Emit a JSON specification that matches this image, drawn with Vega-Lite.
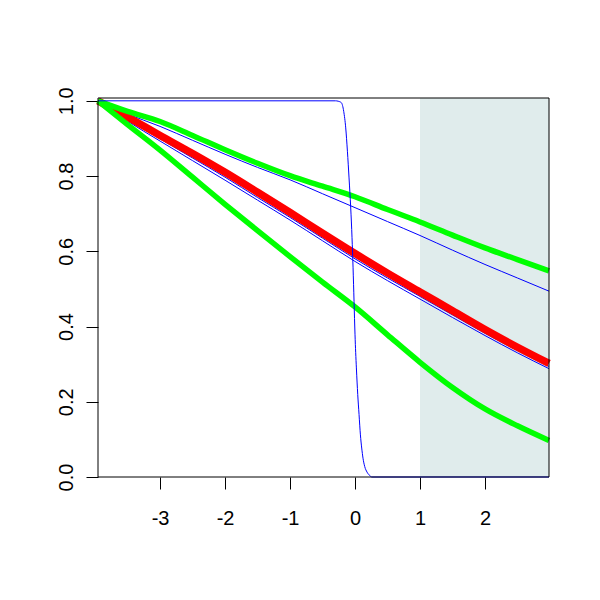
{
  "$schema": "https://vega.github.io/schema/vega-lite/v6.json",
  "width": 451,
  "height": 379,
  "autosize": {"type": "none"},
  "padding": {"left": 98, "top": 98, "right": 51, "bottom": 123},
  "background": "white",
  "config": {
    "view": {"stroke": null},
    "axis": {
      "grid": false, "domain": false, "tickColor": "black", "tickSize": 12, "tickWidth": 1,
      "labelFont": "Liberation Sans", "labelFontSize": 19, "labelColor": "black", "title": null
    }
  },
  "datasets": {
    "shade": [{"x1": 1, "x2": 2.985}],
    "frame": [{"x1": -3.955, "x2": 2.985, "y1": 0, "y2": 1.0075}],
    "fits": [
      {"s": "u", "x": -3.955, "y": 1.0}, {"s": "u", "x": -3.5, "y": 0.965}, {"s": "u", "x": -3, "y": 0.932}, {"s": "u", "x": -2.5, "y": 0.895}, {"s": "u", "x": -2, "y": 0.858}, {"s": "u", "x": -1.5, "y": 0.823}, {"s": "u", "x": -1, "y": 0.79}, {"s": "u", "x": -0.5, "y": 0.753}, {"s": "u", "x": 0, "y": 0.716}, {"s": "u", "x": 0.5, "y": 0.679}, {"s": "u", "x": 1, "y": 0.642}, {"s": "u", "x": 1.5, "y": 0.603}, {"s": "u", "x": 2, "y": 0.565}, {"s": "u", "x": 2.5, "y": 0.529}, {"s": "u", "x": 2.985, "y": 0.494},
      {"s": "a", "x": -3.955, "y": 1.0}, {"s": "a", "x": -3.5, "y": 0.95}, {"s": "a", "x": -3, "y": 0.899}, {"s": "a", "x": -2.5, "y": 0.848}, {"s": "a", "x": -2, "y": 0.797}, {"s": "a", "x": -1.5, "y": 0.743}, {"s": "a", "x": -1, "y": 0.69}, {"s": "a", "x": -0.5, "y": 0.635}, {"s": "a", "x": 0, "y": 0.58}, {"s": "a", "x": 0.5, "y": 0.529}, {"s": "a", "x": 1, "y": 0.48}, {"s": "a", "x": 1.5, "y": 0.431}, {"s": "a", "x": 2, "y": 0.382}, {"s": "a", "x": 2.5, "y": 0.336}, {"s": "a", "x": 2.985, "y": 0.294},
      {"s": "b", "x": -3.955, "y": 1.0}, {"s": "b", "x": -3.5, "y": 0.946}, {"s": "b", "x": -3, "y": 0.893}, {"s": "b", "x": -2.5, "y": 0.841}, {"s": "b", "x": -2, "y": 0.789}, {"s": "b", "x": -1.5, "y": 0.736}, {"s": "b", "x": -1, "y": 0.683}, {"s": "b", "x": -0.5, "y": 0.628}, {"s": "b", "x": 0, "y": 0.573}, {"s": "b", "x": 0.5, "y": 0.522}, {"s": "b", "x": 1, "y": 0.473}, {"s": "b", "x": 1.5, "y": 0.424}, {"s": "b", "x": 2, "y": 0.376}, {"s": "b", "x": 2.5, "y": 0.33}, {"s": "b", "x": 2.985, "y": 0.288}
    ],
    "truth": [
      {"x": -3.955, "y": 1.0}, {"x": -3.5, "y": 0.957}, {"x": -3, "y": 0.908}, {"x": -2.5, "y": 0.86}, {"x": -2, "y": 0.81}, {"x": -1.5, "y": 0.757}, {"x": -1, "y": 0.703}, {"x": -0.5, "y": 0.648}, {"x": 0, "y": 0.594}, {"x": 0.5, "y": 0.542}, {"x": 1, "y": 0.492}, {"x": 1.5, "y": 0.442}, {"x": 2, "y": 0.392}, {"x": 2.5, "y": 0.345}, {"x": 2.985, "y": 0.302}
    ],
    "bands": [
      {"s": "hi", "x": -3.955, "y": 1.0}, {"s": "hi", "x": -3.5, "y": 0.972}, {"s": "hi", "x": -3, "y": 0.945}, {"s": "hi", "x": -2.5, "y": 0.908}, {"s": "hi", "x": -2, "y": 0.87}, {"s": "hi", "x": -1.5, "y": 0.834}, {"s": "hi", "x": -1, "y": 0.801}, {"s": "hi", "x": -0.5, "y": 0.773}, {"s": "hi", "x": 0, "y": 0.745}, {"s": "hi", "x": 0.5, "y": 0.711}, {"s": "hi", "x": 1, "y": 0.678}, {"s": "hi", "x": 1.5, "y": 0.643}, {"s": "hi", "x": 2, "y": 0.609}, {"s": "hi", "x": 2.5, "y": 0.578}, {"s": "hi", "x": 2.985, "y": 0.548},
      {"s": "lo", "x": -3.955, "y": 1.0}, {"s": "lo", "x": -3.5, "y": 0.937}, {"s": "lo", "x": -3, "y": 0.869}, {"s": "lo", "x": -2.5, "y": 0.797}, {"s": "lo", "x": -2, "y": 0.725}, {"s": "lo", "x": -1.5, "y": 0.655}, {"s": "lo", "x": -1, "y": 0.586}, {"s": "lo", "x": -0.5, "y": 0.518}, {"s": "lo", "x": 0, "y": 0.452}, {"s": "lo", "x": 0.5, "y": 0.378}, {"s": "lo", "x": 1, "y": 0.305}, {"s": "lo", "x": 1.5, "y": 0.238}, {"s": "lo", "x": 2, "y": 0.181}, {"s": "lo", "x": 2.5, "y": 0.136}, {"s": "lo", "x": 2.985, "y": 0.097}
    ],
    "steep": [
      {"x": -3.955, "y": 1.0}, {"x": -0.3, "y": 1.0}, {"x": -0.26, "y": 0.999}, {"x": -0.21, "y": 0.995}, {"x": -0.174, "y": 0.972}, {"x": -0.143, "y": 0.928}, {"x": -0.117, "y": 0.866}, {"x": -0.092, "y": 0.795}, {"x": -0.066, "y": 0.715}, {"x": -0.046, "y": 0.636}, {"x": -0.03, "y": 0.556}, {"x": -0.015, "y": 0.467}, {"x": 0.0, "y": 0.378}, {"x": 0.021, "y": 0.29}, {"x": 0.042, "y": 0.219}, {"x": 0.062, "y": 0.166}, {"x": 0.083, "y": 0.112}, {"x": 0.103, "y": 0.077}, {"x": 0.123, "y": 0.05}, {"x": 0.149, "y": 0.028}, {"x": 0.185, "y": 0.013}, {"x": 0.226, "y": 0.004}, {"x": 0.26, "y": 0.0}, {"x": 2.985, "y": 0.0}
    ]
  },
  "resolve": {"scale": {"x": "shared", "y": "shared"}},
  "layer": [
    {
      "data": {"name": "shade"},
      "mark": {"type": "rect", "color": "#e0ecec"},
      "encoding": {
        "x": {"field": "x1", "type": "quantitative",
              "scale": {"domain": [-3.955, 2.985], "nice": false, "zero": false},
              "axis": {"values": [-3, -2, -1, 0, 1, 2], "labelExpr": "toString(datum.value)", "labelPadding": 35, "labelBaseline": "alphabetic", "labelFontSize": 20, "labelFont": "Liberation Sans"}},
        "x2": {"field": "x2"}
      }
    },
    {
      "data": {"name": "fits"},
      "mark": {"type": "line", "color": "#0000ff", "strokeWidth": 1, "interpolate": "monotone"},
      "encoding": {
        "x": {"field": "x", "type": "quantitative"},
        "y": {"field": "y", "type": "quantitative",
              "scale": {"domain": [0, 1.0075], "nice": false, "zero": false},
              "axis": {"values": [0, 0.2, 0.4, 0.6, 0.8, 1.0], "labelExpr": "format(datum.value, '.1f')", "labelAngle": -90, "labelAlign": "center", "labelBaseline": "alphabetic", "labelPadding": 14, "labelFontSize": 20, "labelFont": "Liberation Sans"}},
        "detail": {"field": "s"}
      }
    },
    {
      "data": {"name": "truth"},
      "mark": {"type": "line", "color": "#ff0000", "strokeWidth": 7.5, "interpolate": "monotone"},
      "encoding": {
        "x": {"field": "x", "type": "quantitative"},
        "y": {"field": "y", "type": "quantitative"}
      }
    },
    {
      "data": {"name": "bands"},
      "mark": {"type": "line", "color": "#00ff00", "strokeWidth": 5.5, "interpolate": "monotone"},
      "encoding": {
        "x": {"field": "x", "type": "quantitative"},
        "y": {"field": "y", "type": "quantitative"},
        "detail": {"field": "s"}
      }
    },
    {
      "data": {"name": "steep"},
      "mark": {"type": "line", "color": "#0000ff", "strokeWidth": 1, "interpolate": "monotone"},
      "encoding": {
        "x": {"field": "x", "type": "quantitative"},
        "y": {"field": "y", "type": "quantitative"}
      }
    },
    {
      "data": {"name": "frame"},
      "mark": {"type": "rect", "fill": null, "fillOpacity": 0, "stroke": "black", "strokeWidth": 1},
      "encoding": {
        "x": {"field": "x1", "type": "quantitative"},
        "x2": {"field": "x2"},
        "y": {"field": "y1", "type": "quantitative"},
        "y2": {"field": "y2"}
      }
    }
  ]
}
